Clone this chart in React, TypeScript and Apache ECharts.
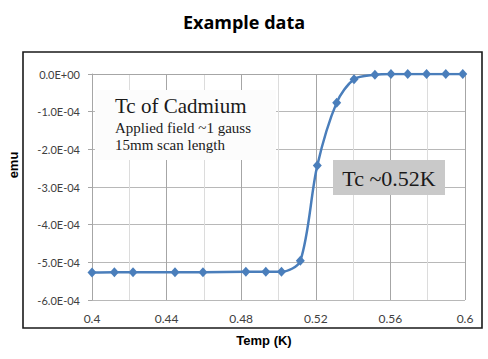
import React, { useEffect, useRef } from "react";
import * as echarts from "echarts";

const temps = [0.4, 0.412, 0.422, 0.4445, 0.4595, 0.4825, 0.4932, 0.5016, 0.5117, 0.5208, 0.5312, 0.5405, 0.5517, 0.5603, 0.5693, 0.5794, 0.5897, 0.5988];
const emu = [-5.27e-4, -5.26e-4, -5.26e-4, -5.26e-4, -5.26e-4, -5.25e-4, -5.25e-4, -5.25e-4, -4.96e-4, -2.43e-4, -0.76e-4, -0.14e-4, -0.02e-4, 0, 0, 0, 0, 0];
const titleText = "Example data";
const xTitle = "Temp (K)";
const yTitle = "emu";
const noteLines = ["Tc of Cadmium", "Applied field ~1 gauss", "15mm scan length"];
const tcLabel = "Tc ~0.52K";

const fmtY = (v: number) => {
  if (Math.abs(v) < 1e-12) return "0.0E+00";
  const [m, e] = v.toExponential(1).split("e");
  const n = parseInt(e, 10);
  return m + "E" + (n < 0 ? "-" : "+") + String(Math.abs(n)).padStart(2, "0");
};

export default function App() {
  const ref = useRef<HTMLDivElement>(null);
  useEffect(() => {
    if (!ref.current) return;
    const chart = echarts.init(ref.current, undefined, { renderer: "svg" });
    const serif = "'Liberation Serif', 'DejaVu Serif', serif";
    chart.setOption({
      animation: false,
      backgroundColor: "#ffffff",
      title: {
        text: titleText,
        left: "center",
        top: 8,
        textStyle: { fontFamily: "'Open Sans', sans-serif", fontWeight: 700, fontSize: 18, color: "#000" },
      },
      grid: { left: 92, right: 23, top: 74, bottom: 59 },
      xAxis: {
        type: "value",
        min: 0.4,
        max: 0.6,
        interval: 0.04,
        axisLine: { show: true, lineStyle: { color: "#a6a6a6", width: 1 } },
        axisTick: { show: false },
        minorTick: { show: false, splitNumber: 2 },
        splitLine: { show: true, lineStyle: { color: "#a6a6a6", width: 1 } },
        minorSplitLine: { show: true, lineStyle: { color: "#dcdcdc", width: 1 } },
        axisLabel: {
          margin: 12,
          fontFamily: "Lato, sans-serif",
          fontSize: 12,
          color: "#404040",
          formatter: (v: number) => String(parseFloat(v.toFixed(2))),
        },
      },
      yAxis: {
        type: "value",
        min: -6e-4,
        max: 0,
        interval: 1e-4,
        axisLine: { show: true, onZero: false, lineStyle: { color: "#a6a6a6", width: 1 } },
        axisTick: { show: true, length: 4, lineStyle: { color: "#a6a6a6" } },
        splitLine: { show: true, lineStyle: { color: "#b8b8b8", width: 1 } },
        axisLabel: {
          margin: 12,
          fontFamily: "Lato, sans-serif",
          fontSize: 11,
          color: "#404040",
          formatter: fmtY,
        },
      },
      series: [
        {
          type: "line",
          data: temps.map((t, i) => [t, emu[i]]),
          smooth: 0.3,
          symbol: "diamond",
          symbolSize: [9, 10],
          lineStyle: { color: "#4a7ebb", width: 2.5 },
          itemStyle: { color: "#4a7ebb" },
          z: 3,
        },
      ],
      graphic: [
        {
          type: "rect",
          shape: { x: 23, y: 52, width: 459, height: 276 },
          style: { fill: "none", stroke: "#1a1a1a", lineWidth: 1.6 },
          z: 1,
        },
        {
          type: "rect",
          shape: { x: 95, y: 90, width: 181, height: 70 },
          style: { fill: "#fcfcfc" },
          z: 5,
        },
        {
          type: "text",
          x: 115,
          y: 106,
          style: { text: noteLines[0], font: `21px ${serif}`, fill: "#1a1a1a", verticalAlign: "middle" },
          z: 6,
        },
        {
          type: "text",
          x: 115,
          y: 128,
          style: { text: noteLines[1], font: `15px ${serif}`, fill: "#1a1a1a", verticalAlign: "middle" },
          z: 6,
        },
        {
          type: "text",
          x: 115,
          y: 145,
          style: { text: noteLines[2], font: `15px ${serif}`, fill: "#1a1a1a", verticalAlign: "middle" },
          z: 6,
        },
        {
          type: "rect",
          shape: { x: 333, y: 160, width: 112, height: 35 },
          style: { fill: "#c9c9c9" },
          z: 5,
        },
        {
          type: "text",
          x: 389,
          y: 178,
          style: { text: tcLabel, font: `22px ${serif}`, fill: "#1a1a1a", align: "center", verticalAlign: "middle" },
          z: 6,
        },
        {
          type: "text",
          x: 264,
          y: 340,
          style: { text: xTitle, font: "bold 13px 'Liberation Sans', Arial, sans-serif", fill: "#000", align: "center", verticalAlign: "middle" },
          z: 6,
        },
        {
          type: "text",
          x: 13,
          y: 165,
          rotation: Math.PI / 2,
          style: { text: yTitle, font: "bold 13px 'Liberation Sans', Arial, sans-serif", fill: "#000", align: "center", verticalAlign: "middle" },
          z: 6,
        },
      ],
    });
    return () => chart.dispose();
  }, []);
  return <div ref={ref} style={{ position: "fixed", left: 0, top: 0, width: 488, height: 359 }} />;
}
